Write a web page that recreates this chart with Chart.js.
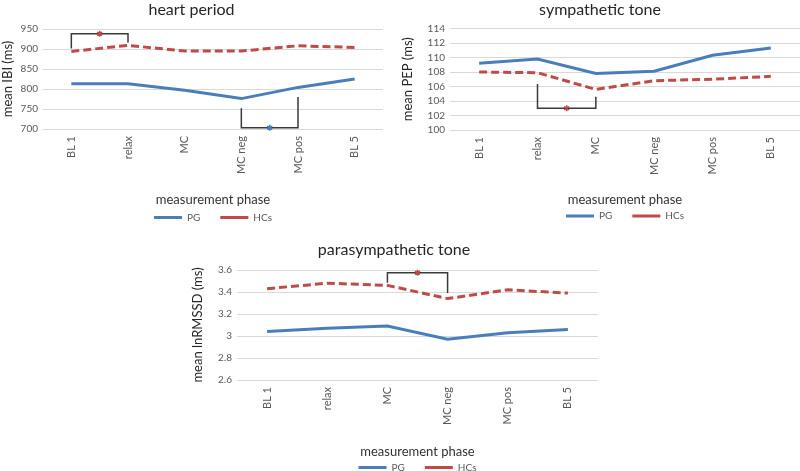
<!DOCTYPE html>
<html>
<head>
<meta charset="utf-8">
<script src="https://cdn.jsdelivr.net/npm/chart.js@4.4.1/dist/chart.umd.min.js"></script>
<style>
  html, body { margin: 0; padding: 0; background: #fff; }
  #wrap { position: relative; width: 800px; height: 471px; overflow: hidden; background: #fff; }
  canvas { position: absolute; }
</style>
</head>
<body>
<div id="wrap">
  <canvas id="c1" width="390" height="236" style="left:0px;top:0px"></canvas>
  <canvas id="c2" width="410" height="236" style="left:400px;top:0px"></canvas>
  <canvas id="c3" width="414" height="248" style="left:190px;top:240px"></canvas>
</div>
<script>
// ---- data ----
const categories = ['BL 1', 'relax', 'MC', 'MC neg', 'MC pos', 'BL 5'];
const seriesNames = ['PG', 'HCs'];

const heartPG = [813, 813, 797, 776, 804, 825];
const heartHC = [894, 909, 895, 895, 908, 904];
const heartTicks = [700, 750, 800, 850, 900, 950];

const symPG = [109.2, 109.8, 107.8, 108.1, 110.3, 111.3];
const symHC = [108.0, 107.9, 105.6, 106.8, 107.0, 107.4];
const symTicks = [100, 102, 104, 106, 108, 110, 112, 114];

const paraPG = [3.04, 3.07, 3.09, 2.97, 3.03, 3.06];
const paraHC = [3.43, 3.48, 3.46, 3.34, 3.42, 3.39];
const paraTicks = [2.6, 2.8, 3, 3.2, 3.4, 3.6];

// significance brackets: [from, to, left leg start, bracket level, right leg end, series]
const heartSig = [['BL 1', 'relax', 901, 938, 916, 'HCs'], ['MC neg', 'MC pos', 752, 703, 780, 'PG']];
const symSig = [['relax', 'MC', 106.35, 103.0, 104.6, 'HCs']];
const paraSig = [['MC', 'MC neg', 3.485, 3.575, 3.39, 'HCs']];

// ---- styles ----
const FONT = 'Lato, "Open Sans", sans-serif';
const COLORS = { PG: '#4a7ebb', HCs: '#be4b48' };

const sigPlugin = {
  id: 'sig',
  afterDatasetsDraw(chart, args, opts) {
    const { ctx } = chart;
    const x = chart.scales.x, y = chart.scales.y;
    (opts.items || []).forEach(([a, b, v1, vt, v2, ser]) => {
      const xa = x.getPixelForValue(categories.indexOf(a));
      const xb = x.getPixelForValue(categories.indexOf(b));
      const y1 = y.getPixelForValue(v1), yt = y.getPixelForValue(vt), y2 = y.getPixelForValue(v2);
      ctx.save();
      ctx.strokeStyle = '#3a3a3a';
      ctx.lineWidth = 1.5;
      ctx.beginPath();
      ctx.moveTo(xa, y1); ctx.lineTo(xa, yt); ctx.lineTo(xb, yt); ctx.lineTo(xb, y2);
      ctx.stroke();
      // asterisk
      const cx = (xa + xb) / 2, cy = yt;
      ctx.strokeStyle = COLORS[ser];
      ctx.lineWidth = 1.6;
      ctx.beginPath();
      for (let k = 0; k < 3; k++) {
        const ang = Math.PI / 2 + k * Math.PI / 3;
        ctx.moveTo(cx - 3 * Math.cos(ang), cy - 3 * Math.sin(ang));
        ctx.lineTo(cx + 3 * Math.cos(ang), cy + 3 * Math.sin(ang));
      }
      ctx.stroke();
      ctx.restore();
    });
  }
};

function build(id, cfg) {
  const canvas = document.getElementById(id);
  const H = canvas.height;
  const legendTop = cfg.legendY - 25;
  const legendH = 32;
  const padBottom = H - legendTop - legendH;
  const xTitleLH = 15.6;
  return new Chart(canvas, {
    type: 'line',
    data: {
      labels: categories,
      datasets: [
        { label: seriesNames[0], data: cfg.pg, borderColor: COLORS.PG, backgroundColor: COLORS.PG,
          borderWidth: 3, pointRadius: 0, pointStyle: 'line', tension: 0, fill: false },
        { label: seriesNames[1], data: cfg.hc, borderColor: COLORS.HCs, backgroundColor: COLORS.HCs,
          borderWidth: 3, borderDash: [8, 4], pointRadius: 0, pointStyle: 'line', tension: 0, fill: false }
      ]
    },
    options: {
      responsive: false,
      animation: false,
      layout: { padding: { left: 0, right: cfg.padRight, top: 0, bottom: padBottom } },
      plugins: {
        title: {
          display: true, text: cfg.title, color: '#262626',
          font: { family: FONT, size: 16, weight: 'normal', lineHeight: 1.25 },
          padding: { top: 0, bottom: cfg.areaTop - 20 }
        },
        legend: {
          display: true, position: 'bottom', fullSize: false, maxHeight: legendH,
          labels: {
            usePointStyle: true, pointStyleWidth: 28, boxHeight: 10, padding: 20,
            color: '#595959', font: { family: FONT, size: 10 }
          }
        },
        tooltip: { enabled: false },
        sig: { items: cfg.sig }
      },
      scales: {
        x: {
          offset: true,
          grid: { display: false, drawTicks: false, offset: true },
          border: { display: false },
          ticks: { color: '#595959', font: { family: FONT, size: 11 }, minRotation: 90, maxRotation: 90, padding: 7, autoSkip: false },
          title: { display: true, text: 'measurement phase', color: '#333',
                   font: { family: FONT, size: 13, lineHeight: 1.2 },
                   padding: { top: 0, bottom: legendTop - cfg.xTitleY - xTitleLH / 2 } },
          afterFit(s) { s.height = legendTop - cfg.areaBottom; }
        },
        y: {
          min: cfg.ticks[0], max: cfg.ticks[cfg.ticks.length - 1],
          afterBuildTicks(s) { s.ticks = cfg.ticks.map(v => ({ value: v })); },
          grid: { color: '#d9d9d9', lineWidth: 1, drawTicks: false },
          border: { display: false },
          ticks: { color: '#595959', font: { family: FONT, size: 10 }, padding: 5, autoSkip: false,
                   callback: v => String(+(+v).toFixed(2)) },
          title: { display: true, text: cfg.yTitle, color: '#262626',
                   font: { family: FONT, size: 13, lineHeight: 1.2 }, padding: { top: 0, bottom: 0 } },
          afterFit(s) { s.width = cfg.yWidth; }
        }
      }
    },
    plugins: [sigPlugin]
  });
}

build('c1', { title: 'heart period', yTitle: 'mean IBI (ms)', pg: heartPG, hc: heartHC, ticks: heartTicks, sig: heartSig,
  yWidth: 43, padRight: 7, areaTop: 29, areaBottom: 129, xTitleY: 200, legendY: 217.5 });
build('c2', { title: 'sympathetic tone', yTitle: 'mean PEP (ms)', pg: symPG, hc: symHC, ticks: symTicks, sig: symSig,
  yWidth: 50, padRight: 10, areaTop: 28.5, areaBottom: 130, xTitleY: 200, legendY: 216 });
build('c3', { title: 'parasympathetic tone', yTitle: 'mean lnRMSSD (ms)', pg: paraPG, hc: paraHC, ticks: paraTicks, sig: paraSig,
  yWidth: 47, padRight: 6, areaTop: 30, areaBottom: 140, xTitleY: 212, legendY: 227.5 });
</script>
</body>
</html>
